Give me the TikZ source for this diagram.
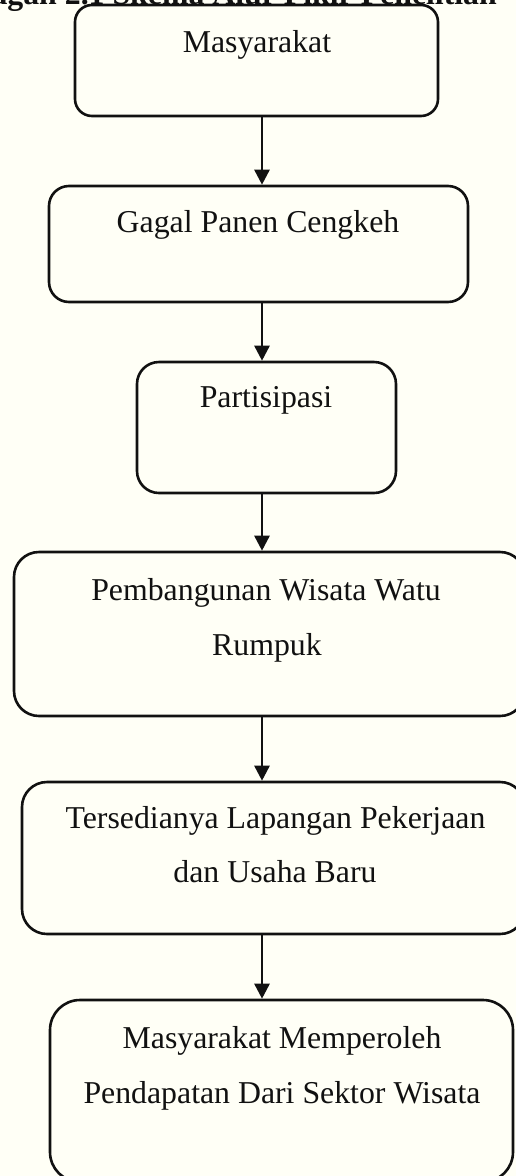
\documentclass[tikz,border=0pt]{standalone}
\usepackage{fontspec}
\setmainfont{Liberation Serif}
\usetikzlibrary{arrows.meta}
\definecolor{bgcream}{HTML}{FFFFF6}
\definecolor{ink}{HTML}{111111}
\tikzset{
  box/.style={draw=ink, line width=2.6pt, rectangle, inner sep=0pt},
  txt/.style={anchor=base, inner sep=0pt, text=ink, font=\fontsize{31.8}{54.5}\selectfont},
  ttl/.style={anchor=base east, inner sep=0pt, text=ink, font=\fontsize{31.8}{38}\selectfont\bfseries},
  arr/.style={draw=ink, line width=2.6pt, -{Triangle[width=15pt,length=15pt]}}
}
\begin{document}
\begin{tikzpicture}[x=1pt,y=-1pt]
\useasboundingbox (0,0) rectangle (516,1176);
\fill[bgcream] (0,0) rectangle (516,1176);
\clip (0,0) rectangle (516,1176);
% title (cut off at the top of the page)
\node[ttl] (title) at (497,4) {Bagan 2.1 Skema Alur Pikir Penelitian};
% boxes
\node[box, rounded corners=17pt, minimum width=363pt, minimum height=111pt] (b1) at (256.5,60.5) {};
\node[box, rounded corners=20pt, minimum width=419pt, minimum height=116pt] (b2) at (258.5,244) {};
\node[box, rounded corners=22pt, minimum width=259pt, minimum height=131pt] (b3) at (266.5,427.5) {};
\node[box, rounded corners=25pt, minimum width=511pt, minimum height=164pt] (b4) at (269.5,634) {};
\node[box, rounded corners=25pt, minimum width=503pt, minimum height=152pt] (b5) at (273.5,858) {};
\node[box, rounded corners=30pt, minimum width=463pt, minimum height=182pt] (b6) at (281.5,1091) {};
% texts
\node[txt] (t1) at (257,52) {Masyarakat};
\node[txt] (t2) at (258,232) {Gagal Panen Cengkeh};
\node[txt] (t3) at (266,407) {Partisipasi};
\node[txt] (t4a) at (266,600) {Pembangunan Wisata Watu};
\node[txt] (t4b) at (267,655) {Rumpuk};
\node[txt] (t5a) at (275.5,828) {Tersedianya Lapangan Pekerjaan};
\node[txt] (t5b) at (275,882) {dan Usaha Baru};
\node[txt] (t6a) at (282,1048) {Masyarakat Memperoleh};
\node[txt] (t6b) at (282,1103) {Pendapatan Dari Sektor Wisata};
% connectors
\coordinate (ax) at (262,0);
\draw[arr] (b1.south -| ax) -- (b2.north -| ax);
\draw[arr] (b2.south -| ax) -- (b3.north -| ax);
\draw[arr] (b3.south -| ax) -- (b4.north -| ax);
\draw[arr] (b4.south -| ax) -- (b5.north -| ax);
\draw[arr] (b5.south -| ax) -- (b6.north -| ax);
\end{tikzpicture}
\end{document}
